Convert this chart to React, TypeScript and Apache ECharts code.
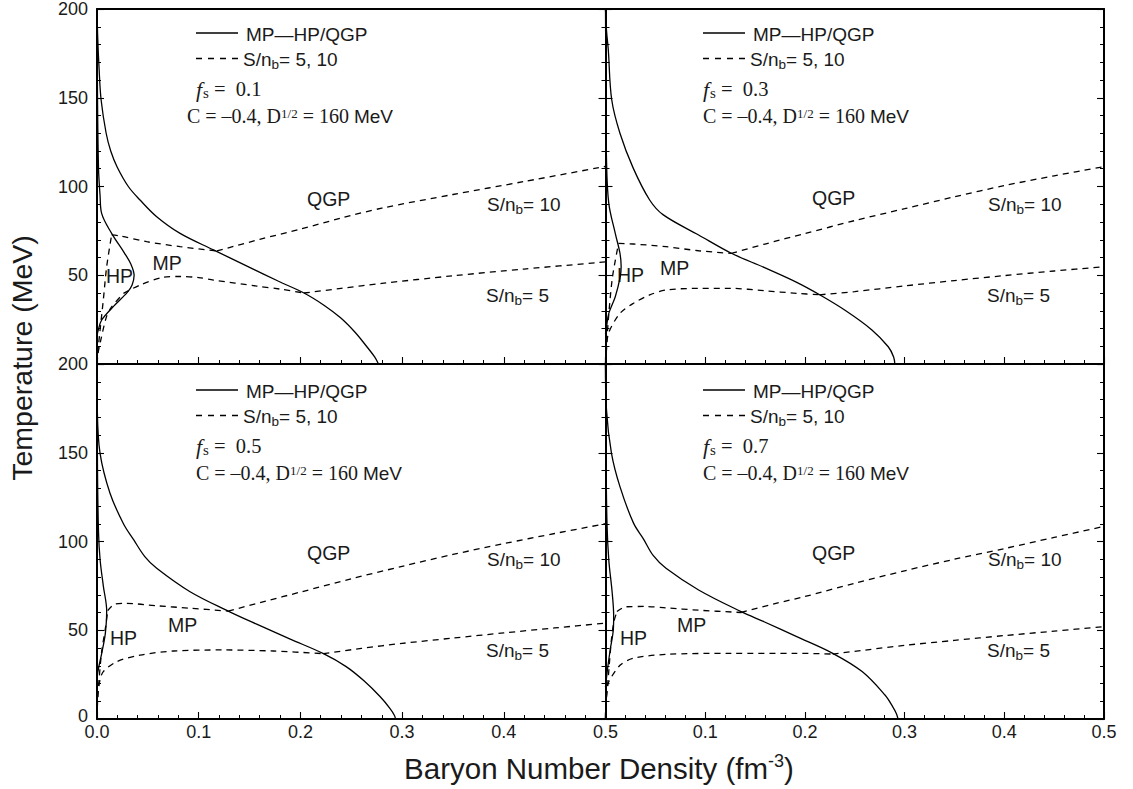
import React, { useEffect, useRef } from "react";
import * as echarts from "echarts";

const SANS = "'Liberation Sans', Arial, Helvetica, sans-serif";
const SERIF = "'Liberation Serif', 'Times New Roman', Times, serif";

// ---- axes ----
const xMin = 0;
const xMax = 0.5;
const xStep = 0.1;
const yMin = 0;
const yMax = 200;
const yStep = 50;

// ---- texts ----
const fsValues = ["0.1", "0.3", "0.5", "0.7"];
const legendSolid = "MP\u2014HP/QGP";
const legendDashed = "S/n{b|b}= 5, 10";
const paramLine = "C = \u20130.4, D{sup|1/2} = 160 {mev|MeV}";
const regionLabels = ["QGP", "MP", "HP"];
const isentropeLabels = ["S/n{b|b}= 10", "S/n{b|b}= 5"];
const xTitle = "Baryon Number Density (fm{sup|-3})";
const yTitle = "Temperature (MeV)";

// ---- data: [baryon density fm^-3, T MeV] ----
// f_s = 0.1
const qgpEdge01 = [[0,200],[0.0007,184],[0.002,167],[0.004,149],[0.009,130],[0.0135,120],[0.0198,111],[0.0308,100],[0.0423,92.4],[0.0587,83],[0.0817,73.6],[0.1145,64.3],[0.148,55],[0.1785,46.6],[0.2035,40],[0.2235,33],[0.2395,26],[0.2535,18],[0.265,10],[0.273,4],[0.2768,0]];
const hpEdge01 = [[0,200],[0.0005,150],[0.0015,110],[0.003,95],[0.0045,85],[0.0144,73.6],[0.027,62.5],[0.0335,56],[0.0365,50],[0.0345,44.5],[0.03,40.5],[0.016,32.3],[0.0046,24.8],[0.0013,19.2],[0,16]];
const sn10_01 = [
  [[0,0],[0.0013,9.7],[0.0062,36],[0.0095,54.8],[0.0144,72.7]],
  [[0.0144,72.7],[0.0226,72.2],[0.0489,68.9],[0.0817,66.1],[0.118,63.7]],
  [[0.118,63.7],[0.16,70.2],[0.2,76],[0.24,82.2],[0.28,87.8],[0.35,95.5],[0.42,102.8],[0.5,111.3]],
];
const sn5_01 = [
  [[0,0],[0.001,6],[0.003,11.6],[0.0095,27],[0.0145,32.3],[0.026,39.8]],
  [[0.026,39.8],[0.0423,44.5],[0.065,48.8],[0.0817,49.3],[0.1,48.7],[0.1145,47.3],[0.157,43.9],[0.18,42.2],[0.2035,40]],
  [[0.2035,40],[0.24,42.6],[0.28,45.4],[0.35,49.7],[0.42,53.5],[0.5,57.5]],
];
// f_s = 0.3
const qgpEdge03 = [[0,200],[0.001,188],[0.0028,177],[0.0062,149],[0.0145,130],[0.0277,110.5],[0.0443,92.4],[0.058,84],[0.0934,72.7],[0.1262,62.4],[0.159,54.4],[0.1918,46],[0.2148,39],[0.241,30],[0.2672,19.2],[0.2836,9.7],[0.289,4],[0.2902,0]];
const hpEdge03 = [[0,200],[0.0005,150],[0.001,115],[0.0033,90.5],[0.0098,73.6],[0.0145,62.4],[0.0157,55],[0.0148,49.2],[0.0098,37.9],[0.0033,28.5],[0.001,21],[0,17]];
const sn10_03 = [
  [[0,0],[0.001,11.6],[0.0066,47.3],[0.0131,68]],
  [[0.0131,68],[0.0279,67.6],[0.0607,66.1],[0.0934,63.8],[0.1262,62.3]],
  [[0.1262,62.3],[0.16,67.6],[0.2,73.5],[0.25,80.8],[0.3,87.5],[0.35,94.2],[0.4,100.5],[0.45,106],[0.5,111.2]],
];
const sn5_03 = [
  [[0,0],[0.001,8],[0.003,17.3],[0.0145,28.5],[0.028,34.2],[0.0443,38.9],[0.0607,41.7],[0.0934,42.6],[0.1262,42.6],[0.159,41.3],[0.1918,39.8],[0.2148,39]],
  [[0.2148,39],[0.25,40.8],[0.3,44],[0.35,47],[0.4,49.8],[0.45,52.4],[0.5,54.8]],
];
// f_s = 0.5
const qgpEdge05 = [[0,200],[0.0003,174],[0.003,149.7],[0.0128,127.2],[0.026,110],[0.036,101],[0.047,91.5],[0.0587,84.9],[0.0915,71.7],[0.129,60.8],[0.157,53.4],[0.19,45],[0.2227,36.8],[0.245,29.5],[0.2625,21.5],[0.2785,12.5],[0.288,6],[0.2925,2],[0.2935,0]];
const hpEdge05 = [[0,200],[0.0005,140],[0.0015,105],[0.003,90],[0.0062,75],[0.0095,61],[0.0092,55],[0.0079,47],[0.005,38],[0.002,30],[0,24]];
const sn10_05 = [
  [[0,0],[0.0005,9],[0.002,22],[0.0046,38],[0.0085,52],[0.0105,61]],
  [[0.0105,61],[0.017,64.6],[0.027,65.2],[0.0587,63.8],[0.0915,62.4],[0.129,60.8]],
  [[0.129,60.8],[0.165,66.3],[0.2,71.5],[0.25,79],[0.3,86],[0.35,92.7],[0.4,98.8],[0.45,104.5],[0.5,110]],
];
const sn5_05 = [
  [[0,0],[0.0003,8],[0.001,15],[0.003,22],[0.0062,26.7],[0.0194,32.3],[0.0423,36],[0.0751,38.3],[0.1243,38.9],[0.1735,38.3],[0.2227,36.8]],
  [[0.2227,36.8],[0.26,39.8],[0.3,42.6],[0.35,45.6],[0.4,48.5],[0.45,51.3],[0.5,54]],
];
// f_s = 0.7
const qgpEdge07 = [[0,200],[0.001,174],[0.006,149.7],[0.0145,130.9],[0.028,110.5],[0.038,101.5],[0.048,92],[0.0607,84.9],[0.0934,72.7],[0.136,60.5],[0.159,54.8],[0.1918,46.4],[0.2279,37],[0.2574,26.7],[0.2803,13.5],[0.288,7],[0.2918,3],[0.2934,0]];
const hpEdge07 = [[0,200],[0.0005,150],[0.0015,110],[0.0033,89.6],[0.0066,71.8],[0.0082,58],[0.0078,50],[0.005,40],[0.002,28],[0,18]];
const sn10_07 = [
  [[0,0],[0.0005,8],[0.003,25],[0.006,45],[0.0085,55],[0.0115,60.5]],
  [[0.0115,60.5],[0.02,63.2],[0.04,63.4],[0.0607,62.6],[0.0934,61.3],[0.136,60]],
  [[0.136,60],[0.17,65],[0.2,69],[0.25,76.5],[0.3,83.5],[0.35,90],[0.4,96],[0.45,102.3],[0.5,108.5]],
];
const sn5_07 = [
  [[0,0],[0.0003,8],[0.0015,16],[0.0033,21],[0.0148,30.4],[0.0279,34.2],[0.0607,36.4],[0.126,37],[0.1918,37],[0.2279,36.6]],
  [[0.2279,36.6],[0.26,38.8],[0.3,41.5],[0.35,44.3],[0.4,47],[0.45,49.5],[0.5,52]],
];

const panelData = [
  { qgp: qgpEdge01, hp: hpEdge01, s10: sn10_01, s5: sn5_01 },
  { qgp: qgpEdge03, hp: hpEdge03, s10: sn10_03, s5: sn5_03 },
  { qgp: qgpEdge05, hp: hpEdge05, s10: sn10_05, s5: sn5_05 },
  { qgp: qgpEdge07, hp: hpEdge07, s10: sn10_07, s5: sn5_07 },
];

// ---- layout (pixels) ----
const gridBoxes = [
  { left: 97, top: 9, width: 508.5, height: 355 },
  { left: 605.5, top: 9, width: 498.5, height: 355 },
  { left: 97, top: 364, width: 508.5, height: 355 },
  { left: 605.5, top: 364, width: 498.5, height: 355 },
];
const legendPos = [
  { x: 196, dy: 0, cx: 187 },
  { x: 703, dy: 0, cx: 703 },
  { x: 196, dy: 357, cx: 196 },
  { x: 703, dy: 357, cx: 703 },
];
// [QGP, MP, HP, S10, S5] (left x, middle y)
const labelPos = [
  [[307, 199], [152.5, 262.5], [106, 276], [487, 204.5], [486, 295]],
  [[812, 198], [660, 268.3], [617, 275], [988, 204], [987, 295]],
  [[307, 553.3], [168, 625], [110, 637.5], [487, 559.7], [486, 650]],
  [[812, 553.3], [677, 625], [620, 637.5], [988, 559.7], [987, 650]],
];

const INK = "#1a1a1a";
const solidStyle = { color: "#000", width: 1.3, type: "solid" };
const dashedStyle = { color: "#000", width: 1.3, type: [6, 5] };

function buildOption() {
  const grid: any[] = [];
  const xAxis: any[] = [];
  const yAxis: any[] = [];
  const series: any[] = [];
  const elements: any[] = [];
  const axisLine = { show: true, onZero: false, lineStyle: { color: "#000", width: 2 } };
  const tick = { show: true, inside: true, length: 7, lineStyle: { color: "#000", width: 1.1 } };
  const minor = { show: true, splitNumber: 5, length: 4, lineStyle: { color: "#000", width: 1 } };

  gridBoxes.forEach((g, i) => {
    const row = i >> 1;
    const col = i & 1;
    grid.push({ ...g, containLabel: false });
    xAxis.push({
      gridIndex: i, type: "value", min: xMin, max: xMax, interval: xStep, position: "bottom",
      axisLine, axisTick: tick, minorTick: minor, splitLine: { show: false },
      axisLabel: {
        show: row === 1, showMinLabel: col === 0, showMaxLabel: true,
        formatter: (v: number) => v.toFixed(1),
        fontSize: 18, fontFamily: SANS, color: INK, margin: 6, lineHeight: 14,
      },
    });
    xAxis.push({
      gridIndex: i, type: "value", min: xMin, max: xMax, interval: xStep, position: "top",
      axisLine, axisTick: { show: false }, minorTick: { show: false },
      axisLabel: { show: false }, splitLine: { show: false },
    });
    yAxis.push({
      gridIndex: i, type: "value", min: yMin, max: yMax, interval: yStep, position: "left",
      axisLine, axisTick: tick, minorTick: minor, splitLine: { show: false },
      axisLabel: {
        show: col === 0, showMinLabel: row === 1, showMaxLabel: true,
        formatter: (v: number) => (v === 0 ? "{z|0}" : String(v)),
        rich: { z: { fontSize: 18, fontFamily: SANS, color: INK, padding: [0, 0, 6, 0] } },
        fontSize: 18, fontFamily: SANS, color: INK, margin: 9, lineHeight: 14,
      },
    });
    yAxis.push({
      gridIndex: i, type: "value", min: yMin, max: yMax, interval: yStep, position: "right",
      axisLine, axisTick: tick, minorTick: minor, splitLine: { show: false },
      axisLabel: { show: false },
    });

    const p = panelData[i];
    const base = {
      type: "line", xAxisIndex: 2 * i, yAxisIndex: 2 * i, symbol: "none",
      silent: true, animation: false, clip: true,
    };
    series.push({ ...base, data: p.qgp, smooth: 0.35, lineStyle: solidStyle });
    series.push({ ...base, data: p.hp, smooth: 0.35, lineStyle: solidStyle });
    [...p.s10, ...p.s5].forEach((seg) => {
      series.push({ ...base, data: seg, smooth: 0.3, lineStyle: dashedStyle });
    });

    // legend block
    const L = legendPos[i];
    elements.push({
      type: "line", shape: { x1: L.x, y1: 33 + L.dy, x2: L.x + 42, y2: 33 + L.dy },
      style: { stroke: "#000", lineWidth: 1.3 },
    });
    elements.push({
      type: "text", x: L.x + 50, y: 34 + L.dy,
      style: { text: legendSolid, fontSize: 19, fontFamily: SANS, fill: INK, align: "left", verticalAlign: "middle" },
    });
    elements.push({
      type: "line", shape: { x1: L.x, y1: 58.5 + L.dy, x2: L.x + 42, y2: 58.5 + L.dy },
      style: { stroke: "#000", lineWidth: 1.3, lineDash: [6, 6] },
    });
    elements.push({
      type: "text", x: L.x + 47, y: 59 + L.dy,
      style: {
        text: legendDashed, fontSize: 19, fontFamily: SANS, fill: INK, align: "left", verticalAlign: "middle",
        rich: { b: { fontSize: 13.5, fontFamily: SANS, fill: INK, padding: [10, 0, 0, 0] } },
      },
    });
    elements.push({
      type: "text", x: L.x, y: 89 + L.dy,
      style: {
        text: "{fi|f}{s|s} =  " + fsValues[i], fontSize: 20.5, fontFamily: SERIF, fill: INK, align: "left", verticalAlign: "middle",
        rich: {
          fi: { fontSize: 22, fontFamily: SERIF, fontStyle: "italic", fill: INK },
          s: { fontSize: 15, fontFamily: SERIF, fill: INK, padding: [8, 0, 0, 1] },
        },
      },
    });
    elements.push({
      type: "text", x: L.cx, y: 116 + L.dy,
      style: {
        text: paramLine, fontSize: 20, fontFamily: SERIF, fill: INK, align: "left", verticalAlign: "middle",
        rich: {
          sup: { fontSize: 13, fontFamily: SERIF, fill: INK, padding: [0, 0, 6, 0] },
          mev: { fontSize: 19, fontFamily: SANS, fill: INK },
        },
      },
    });

    // region and isentrope labels
    const lp = labelPos[i];
    regionLabels.forEach((t, k) => {
      elements.push({
        type: "text", x: lp[k][0], y: lp[k][1],
        style: { text: t, fontSize: 19.5, fontFamily: SANS, fill: INK, align: "left", verticalAlign: "middle" },
      });
    });
    isentropeLabels.forEach((t, k) => {
      elements.push({
        type: "text", x: lp[3 + k][0], y: lp[3 + k][1],
        style: {
          text: t, fontSize: 19, fontFamily: SANS, fill: INK, align: "left", verticalAlign: "middle",
          rich: { b: { fontSize: 13.5, fontFamily: SANS, fill: INK, padding: [10, 0, 0, 0] } },
        },
      });
    });
  });

  elements.push({
    type: "text", x: 599, y: 768,
    style: {
      text: xTitle, fontSize: 29.5, fontFamily: SANS, fill: INK, align: "center", verticalAlign: "middle",
      rich: { sup: { fontSize: 18, fontFamily: SANS, fill: INK, padding: [0, 0, 15, 0] } },
    },
  });
  elements.push({
    type: "text", x: 22, y: 358, rotation: Math.PI / 2,
    style: { text: yTitle, fontSize: 28.5, fontFamily: SANS, fill: INK, align: "center", verticalAlign: "middle" },
  });

  return {
    animation: false,
    backgroundColor: "#ffffff",
    grid, xAxis, yAxis, series,
    graphic: { elements },
  };
}

export default function App() {
  const ref = useRef<HTMLDivElement>(null);
  useEffect(() => {
    if (!ref.current) return;
    const chart = echarts.init(ref.current, null, { renderer: "svg" });
    chart.setOption(buildOption() as any);
    return () => chart.dispose();
  }, []);
  return (
    <div
      ref={ref}
      style={{ position: "fixed", left: 0, top: 0, width: 1133, height: 789, background: "#fff" }}
    />
  );
}
